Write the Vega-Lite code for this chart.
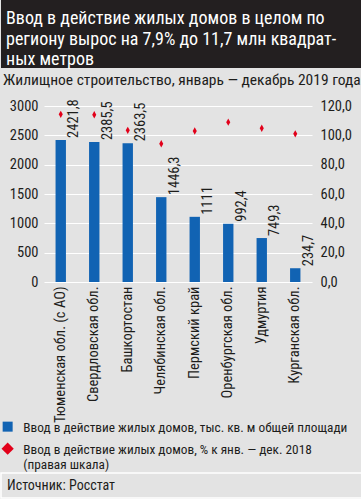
{
  "$schema": "https://vega.github.io/schema/vega-lite/v6.json",
  "background": "#e3e3e3",
  "padding": 0,
  "spacing": 0,
  "resolve": {"legend": {"color": "independent"}},
  "config": {
    "font": "'Roboto Condensed', 'DejaVu Sans Condensed', sans-serif",
    "view": {"stroke": null},
    "locale": {"number": {"decimal": ",", "thousands": " ", "grouping": [3], "currency": ["", ""]}}
  },
  "vconcat": [
    {
      "width": 361,
      "height": 68,
      "view": {"fill": "#231f20", "stroke": null},
      "title": {"text": "Жилищное строительство, январь — декабрь 2019 года", "orient": "bottom", "anchor": "start", "frame": "group", "fontSize": 15.5, "fontWeight": "normal", "color": "#1d1d1b", "offset": 4, "dx": 2},
      "data": {"values": [{"t": ["Ввод в действие жилых домов в целом по", "региону вырос на 7,9% до 11,7 млн квадрат-", "ных метров"]}]},
      "mark": {"type": "text", "align": "left", "baseline": "alphabetic", "fontSize": 18, "lineHeight": 20.7, "color": "#ffffff", "dx": 5, "dy": -10},
      "encoding": {
        "text": {"field": "t"},
        "x": {"datum": 0, "scale": {"domain": [0, 1]}, "axis": null}
      }
    },
    {
      "width": 361,
      "height": 193,
      "data": {"values": [
        {"region": "Тюменская обл. (с АО)", "area": 2421.8, "pct": 114.3},
        {"region": "Свердловская обл.", "area": 2385.5, "pct": 114.0},
        {"region": "Башкортостан", "area": 2363.5, "pct": 103.4},
        {"region": "Челябинская обл.", "area": 1446.3, "pct": 94.3},
        {"region": "Пермский край", "area": 1111, "pct": 103.0},
        {"region": "Оренбургская обл.", "area": 992.4, "pct": 109.0},
        {"region": "Удмуртия", "area": 749.3, "pct": 104.8},
        {"region": "Курганская обл.", "area": 234.7, "pct": 101.0}
      ]},
      "encoding": {
        "x": {"field": "region", "type": "nominal", "sort": null,
          "scale": {"range": [43, 311], "paddingInner": 0.69, "paddingOuter": 0.345},
          "axis": {"title": null, "labelAngle": -90, "labelFontSize": 14.5, "labelColor": "#1d1d1b", "labelPadding": 4, "domain": false, "ticks": false, "labelLimit": 200}}
      },
      "layer": [
        {
          "encoding": {
            "y": {"field": "area", "type": "quantitative", "scale": {"domain": [0, 3000], "nice": false, "range": [193, 17]},
              "axis": {"title": null, "values": [0, 500, 1000, 1500, 2000, 2500, 3000], "format": "d", "grid": true, "gridColor": "#ffffff", "gridWidth": 1, "domain": false, "ticks": false, "labelPadding": -37, "labelFontSize": 14.5, "labelColor": "#1d1d1b", "labelFlush": false}}
          },
          "layer": [
            {
              "mark": {"type": "bar"},
              "encoding": {
                "color": {"datum": "Ввод в действие жилых домов, тыс. кв. м общей площади",
                  "scale": {"domain": ["Ввод в действие жилых домов, тыс. кв. м общей площади", "Ввод в действие  жилых домов, % к янв. — дек. 2018 (правая шкала)"], "range": ["#1163b3", "#e2001a"]},
                  "legend": {"orient": "bottom", "direction": "vertical", "title": null, "labelFontSize": 13.3, "labelColor": "#1d1d1b", "symbolSize": 110, "symbolStrokeWidth": 0, "labelOffset": 9, "rowPadding": 8, "offset": -3, "padding": 0, "labelLimit": 400, "labelBaseline": "alphabetic",
                    "labelExpr": "indexof(datum.label, ' (') > 0 ? [slice(datum.label, 0, indexof(datum.label, ' (')), slice(datum.label, indexof(datum.label, ' (') + 1)] : datum.label",
                    "encode": {"symbols": {"update": {"shape": {"signal": "datum.index === 0 ? 'square' : 'diamond'"}, "size": {"signal": "datum.index === 0 ? 100 : 150"}}}, "labels": {"update": {"dy": {"value": 5}}}}}}
              }
            },
            {
              "mark": {"type": "text", "angle": 270, "align": "left", "baseline": "middle", "dx": 2, "dy": 13.5, "fontSize": 14.5, "color": "#1d1d1b"},
              "encoding": {
                "text": {"field": "area", "type": "quantitative", "format": ".1~f"}
              }
            }
          ]
        },
        {
          "mark": {"type": "point", "filled": true, "opacity": 1, "shape": "M-0.55,0L0,-1L0.55,0L0,1Z", "size": 55},
          "encoding": {
            "y": {"field": "pct", "type": "quantitative", "scale": {"domain": [0, 120], "nice": false, "range": [193, 17]},
              "axis": {"orient": "right", "title": null, "values": [0, 20, 40, 60, 80, 100, 120], "format": ".1f", "grid": false, "domain": false, "ticks": false, "labelPadding": -42, "labelFontSize": 14.5, "labelColor": "#1d1d1b", "labelFlush": false}},
            "color": {"datum": "Ввод в действие  жилых домов, % к янв. — дек. 2018 (правая шкала)"}
          }
        }
      ],
      "resolve": {"scale": {"y": "independent"}}
    },
    {
      "width": 361,
      "height": 25,
      "view": {"stroke": "#ffffff", "strokeWidth": 1.5},
      "data": {"values": [{"s": "Источник: Росстат"}]},
      "mark": {"type": "text", "align": "left", "baseline": "middle", "fontSize": 14, "color": "#1d1d1b", "dx": 6, "dy": 0},
      "encoding": {
        "text": {"field": "s"},
        "x": {"datum": 0, "scale": {"domain": [0, 1]}, "axis": null}
      }
    }
  ]
}
